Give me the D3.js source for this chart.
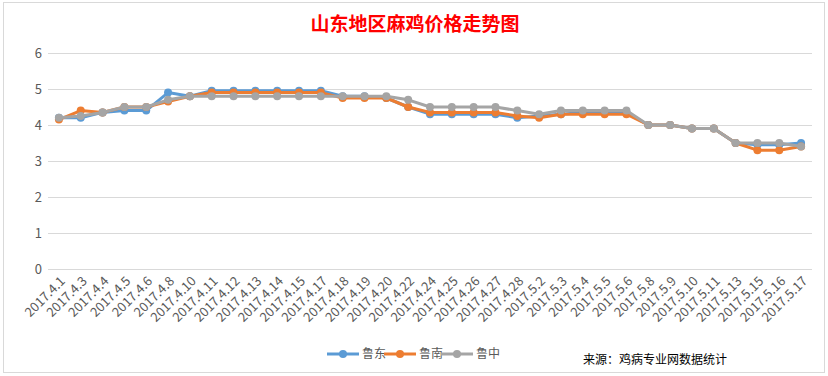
<!DOCTYPE html>
<html>
<head>
<meta charset="utf-8">
<script src="https://cdn.jsdelivr.net/npm/d3@7"></script>
<style>
  body { margin: 0; background: #fff; }
  text { font-family: "Microsoft YaHei", "Noto Sans CJK SC", sans-serif; }
</style>
</head>
<body>
<div id="chart"></div>
<script>
// chart size
const W = 828, H = 376
const margin = {top: 53, right: 16, bottom: 107, left: 48}

const dates = ["2017.4.1","2017.4.3","2017.4.4","2017.4.5","2017.4.6","2017.4.8","2017.4.10","2017.4.11",
    "2017.4.12","2017.4.13","2017.4.14","2017.4.15","2017.4.17","2017.4.18","2017.4.19","2017.4.20",
    "2017.4.22","2017.4.24","2017.4.25","2017.4.26","2017.4.27","2017.4.28","2017.5.2","2017.5.3",
    "2017.5.4","2017.5.5","2017.5.6","2017.5.8","2017.5.9","2017.5.10","2017.5.11","2017.5.13",
    "2017.5.15","2017.5.16","2017.5.17"]

const ludong = [4.2,4.2,4.35,4.4,4.4,4.9,4.8,4.95,4.95,4.95,4.95,4.95,4.95,4.8,4.8,4.75,
    4.5,4.3,4.3,4.3,4.3,4.2,4.25,4.3,4.35,4.35,4.35,4.0,4.0,3.9,3.9,3.5,3.45,3.45,3.5]
const lunan = [4.15,4.4,4.35,4.5,4.5,4.65,4.8,4.9,4.9,4.9,4.9,4.9,4.9,4.75,4.75,4.75,
    4.5,4.35,4.35,4.35,4.35,4.25,4.2,4.3,4.3,4.3,4.3,4.0,4.0,3.9,3.9,3.5,3.3,3.3,3.4]
const luzhong = [4.2,4.25,4.35,4.5,4.5,4.7,4.8,4.8,4.8,4.8,4.8,4.8,4.8,4.8,4.8,4.8,
    4.7,4.5,4.5,4.5,4.5,4.4,4.3,4.4,4.4,4.4,4.4,4.0,4.0,3.9,3.9,3.5,3.5,3.5,3.4]

const yTicks = [0,1,2,3,4,5,6]

const series = [
    {name: "鲁东", values: ludong, color: "#5B9BD5"},
    {name: "鲁南", values: lunan, color: "#ED7D31"},
    {name: "鲁中", values: luzhong, color: "#A5A5A5"}
]

const svg = d3.select("#chart").append("svg")
    .attr("width", W)
    .attr("height", H)

// outer border
svg.append("rect")
    .attr("x", 3.5).attr("y", 2.5)
    .attr("width", 821).attr("height", 370)
    .attr("fill", "#fff")
    .attr("stroke", "#d9d9d9")

const x = d3.scaleBand()
    .domain(dates)
    .range([margin.left, W - margin.right])

const y = d3.scaleLinear()
    .domain([0, 6])
    .range([H - margin.bottom, margin.top])

// title
svg.append("text")
    .attr("x", 415).attr("y", 31)
    .attr("text-anchor", "middle")
    .attr("fill", "#FF0000")
    .style("font-size", "19px")
    .style("font-weight", "bold")
    .text("山东地区麻鸡价格走势图")

// grid + y axis
const yAxis = d3.axisLeft(y).tickValues(yTicks).tickFormat(d3.format("d"))
    .tickSize(-(W - margin.left - margin.right)).tickPadding(6)
const gy = svg.append("g")
    .attr("transform", `translate(${margin.left},0)`)
    .call(yAxis)
gy.select(".domain").remove()
gy.selectAll(".tick line").attr("stroke", "#d9d9d9")
gy.selectAll(".tick text").attr("fill", "#595959").style("font-size", "13px")

// x axis labels
const gx = svg.append("g")
    .attr("transform", `translate(0,${H - margin.bottom})`)
    .call(d3.axisBottom(x).tickSize(0).tickPadding(0))
gx.select(".domain").remove()
gx.selectAll(".tick text")
    .attr("fill", "#595959")
    .style("font-size", "13px")
    .attr("text-anchor", "end")
    .attr("dy", 0)
    .attr("transform", "translate(7,13) rotate(-45)")

const line = d3.line()
    .x((d, i) => x(dates[i]) + x.bandwidth() / 2)
    .y(d => y(d))

series.forEach(s => {
    svg.append("path")
        .datum(s.values)
        .attr("fill", "none")
        .attr("stroke", s.color)
        .attr("stroke-width", 3)
        .attr("stroke-linejoin", "round")
        .attr("d", line)
    svg.selectAll(null)
        .data(s.values)
        .enter().append("circle")
        .attr("cx", (d, i) => x(dates[i]) + x.bandwidth() / 2)
        .attr("cy", d => y(d))
        .attr("r", 4)
        .attr("fill", s.color)
})

// legend
const legend = svg.append("g").attr("transform", "translate(327,354)")
const item = legend.selectAll("g")
    .data(series)
    .enter().append("g")
    .attr("transform", (d, i) => `translate(${i * 57},0)`)
item.append("line")
    .attr("x1", 0).attr("x2", 32)
    .attr("stroke", d => d.color)
    .attr("stroke-width", 3)
item.append("circle")
    .attr("cx", 16).attr("r", 4)
    .attr("fill", d => d.color)
item.append("text")
    .attr("x", 35).attr("dy", "0.35em")
    .attr("fill", "#595959")
    .style("font-size", "12px")
    .text(d => d.name)

svg.append("text")
    .attr("x", 583).attr("y", 364)
    .attr("fill", "#000")
    .style("font-size", "12px")
    .text("来源：鸡病专业网数据统计")
</script>
</body>
</html>
